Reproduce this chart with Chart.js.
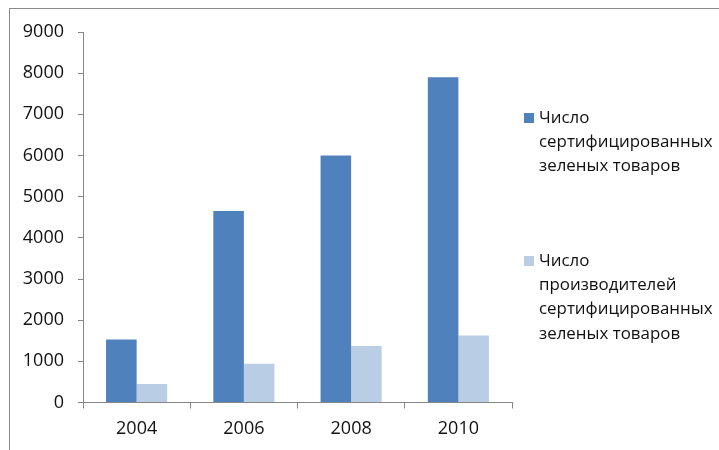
<!DOCTYPE html>
<html lang="ru">
<head>
<meta charset="utf-8">
<script src="https://cdn.jsdelivr.net/npm/chart.js@4/dist/chart.umd.min.js"></script>
<style>
  html, body { margin: 0; padding: 0; background: #fff; overflow: hidden; }
  #frame {
    position: absolute; left: 9px; top: 8px; width: 800px; height: 500px;
    border-top: 1px solid #8a8a8a; border-left: 1px solid #8a8a8a;
  }
  #wrap { position: absolute; left: 0; top: 0; width: 719px; height: 450px; }
</style>
</head>
<body>
<div id="frame"></div>
<div id="wrap"><canvas id="greenChart" width="719" height="450"></canvas></div>
<script>
  // years on the x axis
  const years = ['2004', '2006', '2008', '2010'];
  // certified green products
  const productCounts = [1530, 4650, 6000, 7900];
  // producers of certified green products
  const producerCounts = [450, 940, 1370, 1630];
  // legend names, already split into lines
  const productLabel = ['Число', 'сертифицированных', 'зеленых товаров'];
  const producerLabel = ['Число', 'производителей', 'сертифицированных', 'зеленых товаров'];
  // y axis
  const yTicks = [0, 1000, 2000, 3000, 4000, 5000, 6000, 7000, 8000, 9000];

  const FONT = '"Open Sans", sans-serif';
  const AXIS = '#868686';

  // legend on the right with wrapped names
  const sideLegend = {
    id: 'sideLegend',
    afterDraw(chart) {
      const ctx = chart.ctx;
      const tops = [118, 261];
      ctx.save();
      ctx.font = '16.9px ' + FONT;
      ctx.textBaseline = 'middle';
      ctx.textAlign = 'left';
      chart.data.datasets.forEach((ds, i) => {
        const y0 = tops[i];
        ctx.fillStyle = ds.backgroundColor;
        ctx.fillRect(524, y0 - 5, 10, 10);
        ctx.fillStyle = '#111';
        ds.legendLines.forEach((line, j) => {
          ctx.fillText(line, 539, y0 + j * 24.3);
        });
      });
      ctx.restore();
    }
  };

  new Chart(document.getElementById('greenChart'), {
    type: 'bar',
    data: {
      labels: years,
      datasets: [
        {
          label: productLabel.join(' '),
          legendLines: productLabel,
          data: productCounts,
          backgroundColor: '#4F81BD',
          categoryPercentage: 0.57,
          barPercentage: 1.0
        },
        {
          label: producerLabel.join(' '),
          legendLines: producerLabel,
          data: producerCounts,
          backgroundColor: '#B9CDE5',
          categoryPercentage: 0.57,
          barPercentage: 1.0
        }
      ]
    },
    options: {
      responsive: false,
      animation: false,
      layout: { padding: { left: 0, right: 207, top: 32, bottom: 0 } },
      plugins: {
        legend: { display: false },
        tooltip: { enabled: false }
      },
      scales: {
        x: {
          grid: { display: true, drawOnChartArea: false, drawTicks: true, tickLength: 6, color: AXIS, offset: true },
          border: { display: true, color: AXIS },
          ticks: { color: '#111', font: { family: FONT, size: 18 }, padding: 10 },
          afterFit(scale) { scale.height = 47.5; }
        },
        y: {
          min: 0,
          max: 9000,
          afterBuildTicks(scale) { scale.ticks = yTicks.map(v => ({ value: v })); },
          grid: { display: true, drawOnChartArea: false, drawTicks: true, tickLength: 5, color: AXIS },
          border: { display: true, color: AXIS },
          ticks: {
            color: '#111',
            font: { family: FONT, size: 18 },
            padding: 14,
            callback: v => String(v)
          },
          afterFit(scale) { scale.width = 83; }
        }
      }
    },
    plugins: [sideLegend]
  });
</script>
</body>
</html>
